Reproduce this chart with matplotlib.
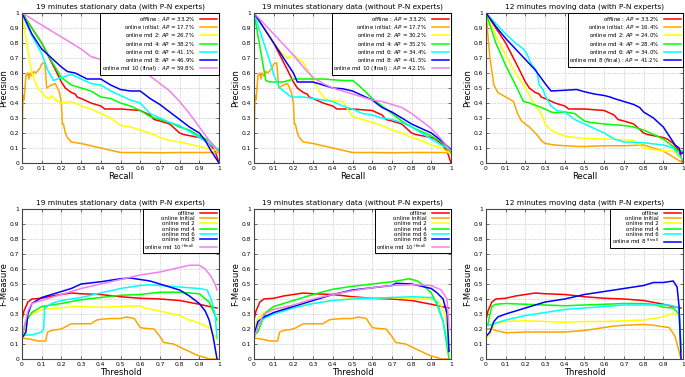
import matplotlib
matplotlib.use("Agg")
import matplotlib.pyplot as plt

# ---- colours / labels ----
colors = ["#ff0000", "#ffa500", "#ffff00", "#00ff00", "#00ffff", "#0000ff", "#ee82ee"]
names = ["offline", "online initial", "online md 2", "online md 4", "online md 6", "online md 8", "online md 10"]

titles = ["19 minutes stationary data (with P-N experts)",
          "19 minutes stationary data (without P-N experts)",
          "12 minutes moving data (with P-N experts)"]

ap1 = [33.2, 17.7, 26.7, 38.2, 41.1, 46.9, 59.8]
ap2 = [33.2, 17.7, 30.2, 35.2, 34.4, 41.5, 42.1]
ap3 = [33.2, 16.4, 24.0, 28.4, 34.0, 41.2]

# ---- precision / recall curves ----
offline_r = [0, 0.1, 0.17, 0.2, 0.22, 0.25, 0.27, 0.28, 0.3, 0.35, 0.4, 0.42, 0.5, 0.6, 0.65, 0.67, 0.7, 0.75, 0.8, 0.82, 0.9, 0.92, 0.95, 0.98, 1.0]
offline_p = [1, 0.8, 0.62, 0.54, 0.5, 0.47, 0.46, 0.44, 0.43, 0.4, 0.38, 0.36, 0.36, 0.35, 0.32, 0.29, 0.28, 0.26, 0.2, 0.19, 0.17, 0.16, 0.13, 0.08, 0.0]

init_r = [0, 0.005, 0.01, 0.02, 0.03, 0.035, 0.04, 0.05, 0.06, 0.07, 0.09, 0.1, 0.115, 0.12, 0.125, 0.15, 0.17, 0.19, 0.2, 0.205, 0.21, 0.22, 0.23, 0.25, 0.3, 0.4, 0.5, 0.6, 0.7, 0.8, 0.9, 1.0]
init_p = [0.14, 0.45, 0.42, 0.58, 0.6, 0.56, 0.6, 0.58, 0.61, 0.6, 0.63, 0.66, 0.67, 0.6, 0.5, 0.52, 0.53, 0.47, 0.4, 0.26, 0.26, 0.2, 0.17, 0.14, 0.13, 0.1, 0.07, 0.07, 0.068, 0.07, 0.07, 0.07]

p1_md2_r = [0, 0.03, 0.05, 0.08, 0.1, 0.12, 0.14, 0.15, 0.17, 0.2, 0.25, 0.3, 0.35, 0.4, 0.45, 0.5, 0.55, 0.6, 0.65, 0.7, 0.75, 0.8, 0.9, 1.0]
p1_md2_p = [1, 0.75, 0.6, 0.5, 0.47, 0.44, 0.43, 0.45, 0.42, 0.4, 0.41, 0.38, 0.36, 0.33, 0.3, 0.25, 0.24, 0.22, 0.2, 0.17, 0.15, 0.14, 0.11, 0.08]
p1_md4_r = [0, 0.1, 0.15, 0.2, 0.25, 0.3, 0.35, 0.4, 0.45, 0.5, 0.55, 0.6, 0.65, 0.7, 0.75, 0.8, 0.85, 0.9, 0.95, 1.0]
p1_md4_p = [1, 0.8, 0.68, 0.57, 0.52, 0.5, 0.48, 0.44, 0.43, 0.4, 0.38, 0.35, 0.31, 0.29, 0.27, 0.24, 0.22, 0.18, 0.15, 0.08]
p1_md6_r = [0, 0.05, 0.1, 0.13, 0.16, 0.2, 0.25, 0.27, 0.3, 0.35, 0.4, 0.45, 0.5, 0.55, 0.6, 0.65, 0.7, 0.75, 0.8, 0.85, 0.9, 0.95, 1.0]
p1_md6_p = [1, 0.85, 0.73, 0.62, 0.55, 0.57, 0.59, 0.58, 0.56, 0.53, 0.52, 0.48, 0.45, 0.42, 0.4, 0.33, 0.3, 0.27, 0.25, 0.21, 0.17, 0.13, 0.09]
p1_md8_r = [0, 0.05, 0.1, 0.15, 0.2, 0.23, 0.27, 0.3, 0.33, 0.4, 0.45, 0.5, 0.55, 0.6, 0.65, 0.7, 0.75, 0.8, 0.85, 0.9, 0.93, 0.96, 1.0]
p1_md8_p = [1, 0.86, 0.76, 0.7, 0.64, 0.61, 0.6, 0.58, 0.56, 0.56, 0.52, 0.49, 0.48, 0.48, 0.43, 0.39, 0.34, 0.29, 0.24, 0.2, 0.15, 0.08, 0.0]
p1_md10_r = [0, 0.1, 0.2, 0.3, 0.35, 0.4, 0.45, 0.5, 0.55, 0.6, 0.65, 0.7, 0.75, 0.8, 0.85, 0.9, 0.95, 1.0]
p1_md10_p = [1, 0.92, 0.84, 0.76, 0.71, 0.69, 0.69, 0.67, 0.65, 0.62, 0.58, 0.53, 0.48, 0.41, 0.33, 0.24, 0.15, 0.07]

p2_md2_r = [0, 0.05, 0.1, 0.15, 0.17, 0.2, 0.22, 0.25, 0.28, 0.3, 0.33, 0.36, 0.38, 0.45, 0.5, 0.55, 0.6, 0.65, 0.7, 0.75, 0.8, 0.85, 0.9, 0.95, 1.0]
p2_md2_p = [1, 0.9, 0.8, 0.72, 0.7, 0.72, 0.7, 0.67, 0.6, 0.55, 0.48, 0.43, 0.42, 0.41, 0.31, 0.29, 0.27, 0.25, 0.22, 0.2, 0.17, 0.15, 0.12, 0.1, 0.06]
p2_md4_r = [0, 0.02, 0.04, 0.06, 0.08, 0.12, 0.15, 0.2, 0.25, 0.3, 0.35, 0.4, 0.45, 0.5, 0.53, 0.57, 0.6, 0.65, 0.7, 0.75, 0.8, 0.85, 0.9, 0.95, 1.0]
p2_md4_p = [1, 0.85, 0.7, 0.55, 0.54, 0.54, 0.54, 0.56, 0.56, 0.56, 0.56, 0.555, 0.55, 0.55, 0.52, 0.47, 0.43, 0.38, 0.33, 0.28, 0.24, 0.21, 0.18, 0.14, 0.07]
p2_md6_r = [0, 0.05, 0.08, 0.1, 0.13, 0.16, 0.19, 0.25, 0.3, 0.35, 0.4, 0.45, 0.5, 0.55, 0.6, 0.65, 0.7, 0.75, 0.8, 0.85, 0.9, 0.95, 1.0]
p2_md6_p = [1, 0.8, 0.68, 0.59, 0.5, 0.47, 0.44, 0.44, 0.43, 0.42, 0.41, 0.38, 0.36, 0.33, 0.32, 0.3, 0.29, 0.27, 0.24, 0.2, 0.16, 0.12, 0.09]
p2_md8_r = [0, 0.1, 0.2, 0.22, 0.3, 0.35, 0.4, 0.45, 0.5, 0.55, 0.6, 0.65, 0.7, 0.75, 0.8, 0.85, 0.9, 0.95, 1.0]
p2_md8_p = [1, 0.8, 0.6, 0.54, 0.54, 0.52, 0.5, 0.495, 0.48, 0.45, 0.42, 0.37, 0.34, 0.3, 0.26, 0.23, 0.2, 0.15, 0.09]
p2_md10_r = [0, 0.1, 0.2, 0.25, 0.3, 0.35, 0.4, 0.45, 0.5, 0.55, 0.6, 0.65, 0.7, 0.75, 0.8, 0.85, 0.9, 0.95, 1.0]
p2_md10_p = [1, 0.86, 0.72, 0.64, 0.57, 0.53, 0.5, 0.48, 0.46, 0.44, 0.42, 0.41, 0.39, 0.37, 0.33, 0.28, 0.23, 0.16, 0.08]

p3_init_r = [0, 0.02, 0.04, 0.06, 0.1, 0.14, 0.16, 0.18, 0.2, 0.22, 0.25, 0.27, 0.28, 0.3, 0.35, 0.4, 0.47, 0.5, 0.6, 0.7, 0.8, 0.85, 0.9, 0.95, 1.0]
p3_init_p = [1, 0.7, 0.52, 0.47, 0.44, 0.41, 0.33, 0.28, 0.26, 0.24, 0.2, 0.17, 0.15, 0.13, 0.12, 0.115, 0.11, 0.11, 0.115, 0.115, 0.12, 0.1, 0.08, 0.04, 0.0]
p3_md2_r = [0, 0.05, 0.1, 0.15, 0.2, 0.25, 0.28, 0.3, 0.33, 0.36, 0.4, 0.45, 0.5, 0.6, 0.7, 0.75, 0.78, 0.8, 0.85, 0.9, 0.95, 1.0]
p3_md2_p = [1, 0.85, 0.72, 0.6, 0.5, 0.38, 0.33, 0.26, 0.22, 0.2, 0.18, 0.17, 0.165, 0.16, 0.155, 0.15, 0.12, 0.1, 0.09, 0.08, 0.08, 0.02]
p3_md4_r = [0, 0.05, 0.1, 0.15, 0.19, 0.22, 0.25, 0.3, 0.33, 0.35, 0.4, 0.45, 0.48, 0.5, 0.53, 0.6, 0.7, 0.75, 0.8, 0.85, 0.9, 0.95, 0.97, 1.0]
p3_md4_p = [1, 0.8, 0.65, 0.52, 0.41, 0.4, 0.385, 0.36, 0.34, 0.335, 0.34, 0.33, 0.3, 0.28, 0.27, 0.26, 0.25, 0.24, 0.22, 0.19, 0.16, 0.11, 0.08, 0.08]
p3_md6_r = [0, 0.05, 0.1, 0.15, 0.19, 0.21, 0.23, 0.25, 0.26, 0.27, 0.29, 0.3, 0.33, 0.36, 0.4, 0.45, 0.5, 0.55, 0.6, 0.65, 0.7, 0.8, 0.9, 0.95, 1.0]
p3_md6_p = [1, 0.93, 0.86, 0.8, 0.76, 0.72, 0.66, 0.63, 0.6, 0.52, 0.49, 0.45, 0.38, 0.35, 0.34, 0.29, 0.26, 0.23, 0.2, 0.16, 0.14, 0.135, 0.12, 0.1, 0.02]
p3_md8_r = [0, 0.05, 0.1, 0.15, 0.2, 0.25, 0.3, 0.33, 0.4, 0.46, 0.5, 0.55, 0.6, 0.63, 0.65, 0.7, 0.75, 0.78, 0.8, 0.85, 0.9, 0.93, 0.96, 0.98, 0.99, 1.0]
p3_md8_p = [1, 0.91, 0.83, 0.76, 0.69, 0.62, 0.53, 0.48, 0.485, 0.49, 0.475, 0.46, 0.45, 0.44, 0.43, 0.41, 0.39, 0.37, 0.34, 0.3, 0.24, 0.18, 0.12, 0.1, 0.06, 0.07]

# ---- F-measure / threshold curves ----
f_offline_t = [0, 0.01, 0.03, 0.05, 0.1, 0.15, 0.2, 0.25, 0.3, 0.4, 0.5, 0.6, 0.7, 0.8, 0.9, 0.95, 0.99]
f_offline_f = [0.26, 0.32, 0.38, 0.4, 0.405, 0.42, 0.43, 0.44, 0.435, 0.43, 0.415, 0.405, 0.4, 0.39, 0.365, 0.35, 0.34]
f_init_t = [0, 0.05, 0.08, 0.12, 0.13, 0.15, 0.2, 0.25, 0.3, 0.35, 0.38, 0.4, 0.45, 0.5, 0.53, 0.57, 0.6, 0.62, 0.67, 0.7, 0.72, 0.77, 0.8, 0.85, 0.88, 0.9, 0.93, 0.95, 0.99]
f_init_f = [0.14, 0.13, 0.12, 0.12, 0.18, 0.19, 0.2, 0.235, 0.235, 0.235, 0.26, 0.265, 0.27, 0.27, 0.28, 0.27, 0.21, 0.205, 0.2, 0.15, 0.11, 0.1, 0.08, 0.05, 0.03, 0.02, 0.01, 0.0, 0.0]

f1_md2_t = [0, 0.02, 0.03, 0.05, 0.1, 0.2, 0.25, 0.3, 0.4, 0.5, 0.6, 0.62, 0.7, 0.8, 0.85, 0.9, 0.95, 0.99]
f1_md2_f = [0.15, 0.2, 0.28, 0.3, 0.33, 0.34, 0.35, 0.35, 0.345, 0.35, 0.355, 0.34, 0.32, 0.29, 0.26, 0.24, 0.21, 0.13]
f1_md4_t = [0, 0.02, 0.05, 0.1, 0.2, 0.3, 0.4, 0.5, 0.6, 0.7, 0.8, 0.9, 0.95, 0.99]
f1_md4_f = [0.15, 0.25, 0.31, 0.35, 0.37, 0.395, 0.41, 0.425, 0.43, 0.445, 0.445, 0.435, 0.38, 0.26]
f1_md6_t = [0, 0.02, 0.05, 0.1, 0.11, 0.115, 0.15, 0.2, 0.3, 0.4, 0.5, 0.6, 0.65, 0.7, 0.8, 0.9, 0.94, 0.96, 0.98, 0.99]
f1_md6_f = [0.15, 0.16, 0.16, 0.18, 0.2, 0.34, 0.37, 0.39, 0.41, 0.44, 0.47, 0.49, 0.495, 0.49, 0.48, 0.47, 0.46, 0.4, 0.3, 0.14]
f1_md8_t = [0, 0.02, 0.03, 0.05, 0.1, 0.15, 0.2, 0.25, 0.3, 0.4, 0.5, 0.55, 0.6, 0.65, 0.7, 0.75, 0.8, 0.85, 0.9, 0.93, 0.95, 0.97, 0.99]
f1_md8_f = [0.14, 0.18, 0.3, 0.37, 0.41, 0.43, 0.45, 0.47, 0.5, 0.515, 0.535, 0.54, 0.53, 0.52, 0.5, 0.48, 0.46, 0.42, 0.37, 0.32, 0.26, 0.15, 0.0]
f1_md10_t = [0, 0.03, 0.05, 0.1, 0.2, 0.3, 0.4, 0.5, 0.6, 0.7, 0.8, 0.85, 0.9, 0.93, 0.96, 0.98, 0.99]
f1_md10_f = [0.15, 0.32, 0.37, 0.39, 0.43, 0.47, 0.5, 0.53, 0.56, 0.58, 0.61, 0.625, 0.625, 0.6, 0.55, 0.5, 0.46]

f2_md2_t = [0, 0.02, 0.05, 0.1, 0.2, 0.3, 0.4, 0.5, 0.6, 0.7, 0.8, 0.9, 0.94, 0.97, 0.99]
f2_md2_f = [0.2, 0.27, 0.31, 0.33, 0.355, 0.37, 0.39, 0.405, 0.405, 0.41, 0.4, 0.4, 0.38, 0.3, 0.05]
f2_md4_t = [0, 0.02, 0.04, 0.06, 0.1, 0.2, 0.3, 0.4, 0.5, 0.6, 0.7, 0.79, 0.83, 0.86, 0.9, 0.93, 0.96, 0.99]
f2_md4_f = [0.16, 0.18, 0.25, 0.31, 0.35, 0.39, 0.43, 0.465, 0.485, 0.5, 0.515, 0.535, 0.52, 0.49, 0.44, 0.36, 0.25, 0.0]
f2_md6_t = [0, 0.02, 0.05, 0.1, 0.2, 0.3, 0.4, 0.5, 0.6, 0.7, 0.8, 0.9, 0.93, 0.96, 0.99]
f2_md6_f = [0.15, 0.23, 0.27, 0.3, 0.34, 0.37, 0.39, 0.4, 0.405, 0.41, 0.415, 0.41, 0.38, 0.25, 0.05]
f2_md8_t = [0, 0.02, 0.05, 0.1, 0.2, 0.3, 0.4, 0.5, 0.6, 0.7, 0.72, 0.8, 0.9, 0.93, 0.96, 0.98, 0.99]
f2_md8_f = [0.16, 0.25, 0.28, 0.31, 0.35, 0.39, 0.43, 0.46, 0.475, 0.49, 0.505, 0.5, 0.47, 0.44, 0.4, 0.3, 0.05]
f2_md10_t = [0, 0.02, 0.05, 0.1, 0.2, 0.3, 0.4, 0.5, 0.6, 0.7, 0.8, 0.9, 0.95, 0.98, 0.99]
f2_md10_f = [0.13, 0.22, 0.3, 0.33, 0.36, 0.4, 0.43, 0.455, 0.475, 0.49, 0.495, 0.49, 0.46, 0.4, 0.2]

f3_init_t = [0, 0.03, 0.05, 0.1, 0.2, 0.3, 0.4, 0.5, 0.6, 0.65, 0.7, 0.8, 0.85, 0.9, 0.93, 0.96, 0.99]
f3_init_f = [0.2, 0.2, 0.19, 0.175, 0.18, 0.18, 0.18, 0.19, 0.21, 0.22, 0.225, 0.23, 0.225, 0.215, 0.21, 0.15, 0.0]
f3_md2_t = [0, 0.02, 0.03, 0.05, 0.1, 0.2, 0.3, 0.4, 0.5, 0.6, 0.7, 0.8, 0.85, 0.9, 0.95, 0.98, 0.99]
f3_md2_f = [0.14, 0.16, 0.2, 0.235, 0.25, 0.255, 0.25, 0.245, 0.25, 0.25, 0.255, 0.26, 0.27, 0.28, 0.305, 0.29, 0.05]
f3_md4_t = [0, 0.01, 0.02, 0.03, 0.05, 0.1, 0.2, 0.3, 0.4, 0.5, 0.6, 0.7, 0.8, 0.85, 0.9, 0.95, 0.98, 0.99]
f3_md4_f = [0.22, 0.23, 0.3, 0.35, 0.365, 0.37, 0.365, 0.36, 0.355, 0.36, 0.365, 0.37, 0.37, 0.365, 0.345, 0.34, 0.3, 0.05]
f3_md6_t = [0, 0.03, 0.05, 0.1, 0.2, 0.3, 0.4, 0.5, 0.6, 0.7, 0.8, 0.85, 0.9, 0.93, 0.96, 0.98, 0.99]
f3_md6_f = [0.22, 0.23, 0.24, 0.26, 0.29, 0.31, 0.33, 0.34, 0.35, 0.36, 0.36, 0.36, 0.36, 0.36, 0.35, 0.34, 0.1]
f3_md8_t = [0, 0.02, 0.04, 0.06, 0.1, 0.2, 0.3, 0.4, 0.5, 0.6, 0.7, 0.8, 0.85, 0.9, 0.95, 0.97, 0.98, 0.99]
f3_md8_f = [0.15, 0.18, 0.25, 0.28, 0.3, 0.34, 0.38, 0.4, 0.43, 0.45, 0.47, 0.49, 0.51, 0.51, 0.52, 0.48, 0.35, 0.0]

pr_panels = [
    [(offline_r, offline_p), (init_r, init_p), (p1_md2_r, p1_md2_p), (p1_md4_r, p1_md4_p),
     (p1_md6_r, p1_md6_p), (p1_md8_r, p1_md8_p), (p1_md10_r, p1_md10_p)],
    [(offline_r, offline_p), (init_r, init_p), (p2_md2_r, p2_md2_p), (p2_md4_r, p2_md4_p),
     (p2_md6_r, p2_md6_p), (p2_md8_r, p2_md8_p), (p2_md10_r, p2_md10_p)],
    [(offline_r, offline_p), (p3_init_r, p3_init_p), (p3_md2_r, p3_md2_p), (p3_md4_r, p3_md4_p),
     (p3_md6_r, p3_md6_p), (p3_md8_r, p3_md8_p)],
]
f_panels = [
    [(f_offline_t, f_offline_f), (f_init_t, f_init_f), (f1_md2_t, f1_md2_f), (f1_md4_t, f1_md4_f),
     (f1_md6_t, f1_md6_f), (f1_md8_t, f1_md8_f), (f1_md10_t, f1_md10_f)],
    [(f_offline_t, f_offline_f), (f_init_t, f_init_f), (f2_md2_t, f2_md2_f), (f2_md4_t, f2_md4_f),
     (f2_md6_t, f2_md6_f), (f2_md8_t, f2_md8_f), (f2_md10_t, f2_md10_f)],
    [(f_offline_t, f_offline_f), (f3_init_t, f3_init_f), (f3_md2_t, f3_md2_f), (f3_md4_t, f3_md4_f),
     (f3_md6_t, f3_md6_f), (f3_md8_t, f3_md8_f)],
]
aps = [ap1, ap2, ap3]

ticks = [i / 10 for i in range(11)]
tick_labels = ["0", "0.1", "0.2", "0.3", "0.4", "0.5", "0.6", "0.7", "0.8", "0.9", "1"]

fig = plt.figure(figsize=(6.85, 3.77), dpi=100)
lefts = [22 / 685, 254 / 685, 486 / 685]
w = 197 / 685
h = 150 / 377


def style_axes(ax, title, xlabel, ylabel):
    ax.set_xlim(0, 1)
    ax.set_ylim(0, 1)
    ax.set_xticks(ticks)
    ax.set_yticks(ticks)
    ax.set_xticklabels(tick_labels)
    ax.set_yticklabels(tick_labels)
    ax.tick_params(direction="in", length=2, width=0.5, labelsize=4.3, pad=2,
                   top=True, right=True, colors="#333333", labelcolor="black")
    ax.grid(True, color="#b0b0b0", linestyle=(0, (1, 1.5)), linewidth=0.5)
    for s in ax.spines.values():
        s.set_color("#444444")
        s.set_linewidth(0.8)
    ax.set_title(title, fontsize=5.3, pad=3)
    ax.set_xlabel(xlabel, fontsize=6, labelpad=1)
    ax.set_ylabel(ylabel, fontsize=6, labelpad=1)


def add_legend(ax):
    leg = ax.legend(loc="upper right", fontsize=4.0, markerfirst=False, handlelength=3.2,
                    handletextpad=0.8, labelspacing=0.05, borderaxespad=0, borderpad=0.3,
                    fancybox=False, framealpha=1, edgecolor="black")
    leg.get_frame().set_linewidth(0.7)


for col in range(3):
    # precision-recall row
    ax = fig.add_axes([lefts[col], (377 - 163) / 377, w, h])
    curves = pr_panels[col]
    n = len(curves)
    for i, (x, y) in enumerate(curves):
        if i == 0:
            lab = names[i] + " : "
        elif i == n - 1:
            lab = names[i] + " (final) : "
        else:
            lab = names[i] + ": "
        lab = lab + "$AP$ = %.1f%%" % aps[col][i]
        ax.plot(x, y, color=colors[i], lw=1.1, label=lab)
    style_axes(ax, titles[col], "Recall", "Precision")
    add_legend(ax)

    # F-measure row
    ax = fig.add_axes([lefts[col], (377 - 359) / 377, w, h])
    curves = f_panels[col]
    n = len(curves)
    for i, (x, y) in enumerate(curves):
        lab = names[i]
        if i == n - 1:
            lab = lab + " $^{\\mathrm{(final)}}$"
        ax.plot(x, y, color=colors[i], lw=1.1, label=lab)
    style_axes(ax, titles[col], "Threshold", "F-Measure")
    add_legend(ax)

fig.savefig("out.png", dpi=100)
